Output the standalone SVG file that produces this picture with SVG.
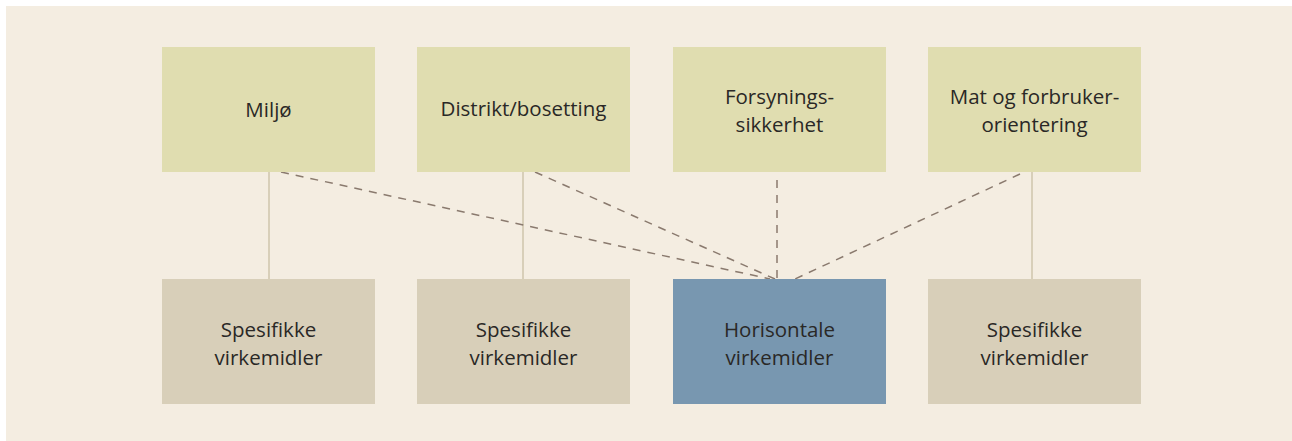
<svg xmlns="http://www.w3.org/2000/svg" width="1292" height="441" viewBox="0 0 1292 441">
<style>
.top{fill:#e0ddb0}
.bot{fill:#d8cfb9}
.hor{fill:#7897b0}
text{font-family:"Open Sans","Noto Sans",sans-serif;font-size:20.5px;fill:#2a2826;text-anchor:middle}
.solid{stroke:#d8cfb9;stroke-width:2;fill:none}
.dash{stroke:#8a7a6e;stroke-width:1.5;stroke-dasharray:8 7;fill:none}
</style>
<rect x="0" y="0" width="1292" height="441" fill="#ffffff"/>
<rect x="6" y="6" width="1286" height="435" fill="#f4ede1"/>
<g id="connectors">
<line class="solid" x1="269" y1="172" x2="269" y2="279"/>
<line class="solid" x1="523" y1="172" x2="523" y2="279"/>
<line class="solid" x1="1032" y1="172" x2="1032" y2="279"/>
<line class="dash" x1="281" y1="172" x2="770" y2="279"/>
<line class="dash" x1="535" y1="172" x2="775" y2="279"/>
<line class="dash" x1="777" y1="180" x2="777" y2="279"/>
<line class="dash" x1="1020" y1="174" x2="795" y2="279"/>
</g>
<g id="miljo"><rect class="top" x="162" y="47" width="213" height="125"/><text x="268.5" y="117">Miljø</text></g>
<g id="distrikt"><rect class="top" x="417" y="47" width="213" height="125"/><text x="523.5" y="116">Distrikt/bosetting</text></g>
<g id="forsyning"><rect class="top" x="673" y="47" width="213" height="125"/><text x="779.5" y="104">Forsynings-</text><text x="779.5" y="132">sikkerhet</text></g>
<g id="mat"><rect class="top" x="928" y="47" width="213" height="125"/><text x="1034.5" y="104">Mat og forbruker-</text><text x="1034.5" y="132">orientering</text></g>
<g id="spes1"><rect class="bot" x="162" y="279" width="213" height="125"/><text x="268.5" y="337">Spesifikke</text><text x="268.5" y="365">virkemidler</text></g>
<g id="spes2"><rect class="bot" x="417" y="279" width="213" height="125"/><text x="523.5" y="337">Spesifikke</text><text x="523.5" y="365">virkemidler</text></g>
<g id="horisontale"><rect class="hor" x="673" y="279" width="213" height="125"/><text x="779.5" y="337">Horisontale</text><text x="779.5" y="365">virkemidler</text></g>
<g id="spes3"><rect class="bot" x="928" y="279" width="213" height="125"/><text x="1034.5" y="337">Spesifikke</text><text x="1034.5" y="365">virkemidler</text></g>
</svg>
